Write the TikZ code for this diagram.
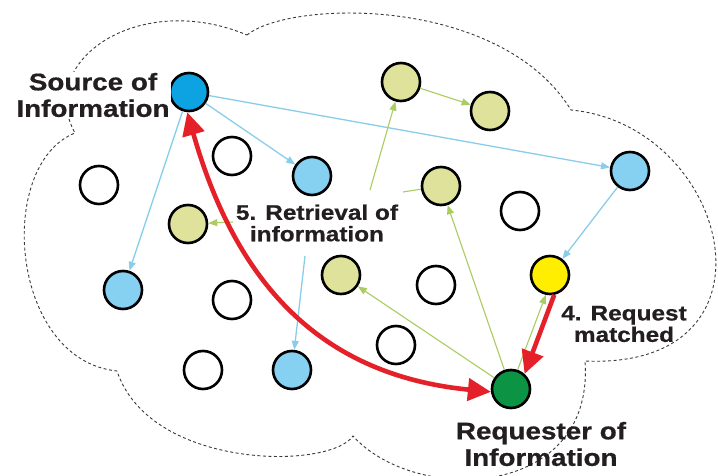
\documentclass[tikz,border=0pt]{standalone}
\usepackage{fontspec}
\setmainfont{Liberation Sans}
\newfontfamily\heavyfont{Liberation Sans Bold}[FakeBold=0.6]
\usepackage{graphicx}
\usetikzlibrary{arrows.meta}
\definecolor{srcblue}{HTML}{0DA2E2}
\definecolor{ltblue}{HTML}{86D0F2}
\definecolor{ygfill}{HTML}{DEE29B}
\definecolor{yelfill}{HTML}{FFEE00}
\definecolor{grnfill}{HTML}{0B9444}
\definecolor{blueline}{HTML}{8ACDEB}
\definecolor{greenline}{HTML}{AACC60}
\definecolor{redline}{HTML}{E42028}
\definecolor{txt}{HTML}{231F20}
\definecolor{cloudline}{HTML}{3A3A3A}
\newcommand{\wx}[1]{\scalebox{1.16}[1]{#1}}
\begin{document}
\begin{tikzpicture}[x=1pt,y=-1pt,
  peer/.style={circle, draw=black, line width=2.6pt, minimum size=38pt, inner sep=0pt, fill=white},
  cloud/.style={draw=cloudline, line width=0.9pt, dash pattern=on 3pt off 2.5pt},
  bl/.style={draw=blueline, line width=1.3pt, -{Triangle[length=9pt,width=7pt]}},
  gl/.style={draw=greenline, line width=1.1pt, -{Triangle[length=9pt,width=7pt]}},
  glplain/.style={draw=greenline, line width=1.1pt},
  rl/.style={draw=redline, line width=4.6pt, -{Triangle[length=23pt,width=22pt]}},
  rlboth/.style={draw=redline, line width=4.6pt, {Triangle[length=23pt,width=22pt]}-{Triangle[length=23pt,width=22pt]}},
  lblbig/.style={align=center, inner sep=1pt, text=txt, font=\fontsize{24}{26.5}\selectfont\heavyfont},
  lblsmall/.style={align=center, inner sep=1pt, text=txt, font=\fontsize{21}{21.5}\selectfont\heavyfont}
]
\useasboundingbox[fill=white] (0,0) rectangle (718,476);
\clip (0,0) rectangle (718,476);

% cloud outline
\draw[cloud] (247,35) .. controls (290,0) and (500,-5) .. (571,110)
  .. controls (730,125) and (790,370) .. (585,361)
  .. controls (595,500) and (415,505) .. (353,436)
  .. controls (330,470) and (150,470) .. (117,371)
  .. controls (10,360) and (-5,165) .. (75,133)
  .. controls (35,60) and (140,-10) .. (247,35);

% peers
\node[peer, fill=srcblue] (src) at (189,92) {};
\node[peer] (e1) at (232,156) {};
\node[peer] (e2) at (99,185) {};
\node[peer, fill=ltblue] (b1) at (312,176) {};
\node[peer, fill=ygfill] (g1) at (401,82) {};
\node[peer, fill=ygfill] (g2) at (490,111) {};
\node[peer, fill=ltblue] (b2) at (630,171) {};
\node[peer, fill=ygfill] (g3) at (441,186) {};
\node[peer] (e3) at (520,211) {};
\node[peer, fill=ygfill] (g4) at (188,224) {};
\node[peer, fill=ltblue] (b3) at (123,290) {};
\node[peer] (e4) at (232,300) {};
\node[peer, fill=ygfill] (g5) at (341,275) {};
\node[peer] (e5) at (436,285) {};
\node[peer, fill=yelfill] (yel) at (550,275) {};
\node[peer] (e6) at (396,345) {};
\node[peer] (e7) at (203,370) {};
\node[peer, fill=ltblue] (b4) at (292,370) {};
\node[peer, fill=grnfill] (req) at (511,389) {};

% labels
\node[lblbig, fill=white] (srclbl) at (93,95) {\wx{Source of}\\\wx{Information}};
\node[lblsmall] (retlbl) at (317,223) {\wx{5. Retrieval of}\\\wx{information}};
\node[lblsmall] (matlbl) at (624,324) {\wx{4. Request}\\\wx{matched}};
\node[lblbig] (reqlbl) at (541,444) {\wx{Requester of}\\\wx{Information}};

% free ends of label connectors
\coordinate (r1) at (370,190);
\coordinate (r2) at (403,192);
\coordinate (r3) at (233,222);
\coordinate (r4) at (305,256);

% blue connectors
\draw[bl] (src) -- (b1);
\draw[bl] (src) -- (b2);
\draw[bl] (src) -- (b3);
\draw[bl] (b2) -- (yel);
\draw[bl] (r4) -- (b4);

% green connectors
\draw[gl] (g1) -- (g2);
\draw[gl] (r1) -- (g1);
\draw[glplain] (r2) -- (g3);
\draw[gl] (r3) -- (g4);
\draw[gl] (req) -- (g5);
\draw[gl] (req) -- (g3);
\draw[gl] (req.71) -- (yel.258);

% red connectors
\draw[rl] (yel.282) -- (req.48);
\draw[rlboth] (src.265) .. controls (236,283) and (320,375) .. (req.188);
\end{tikzpicture}
\end{document}
